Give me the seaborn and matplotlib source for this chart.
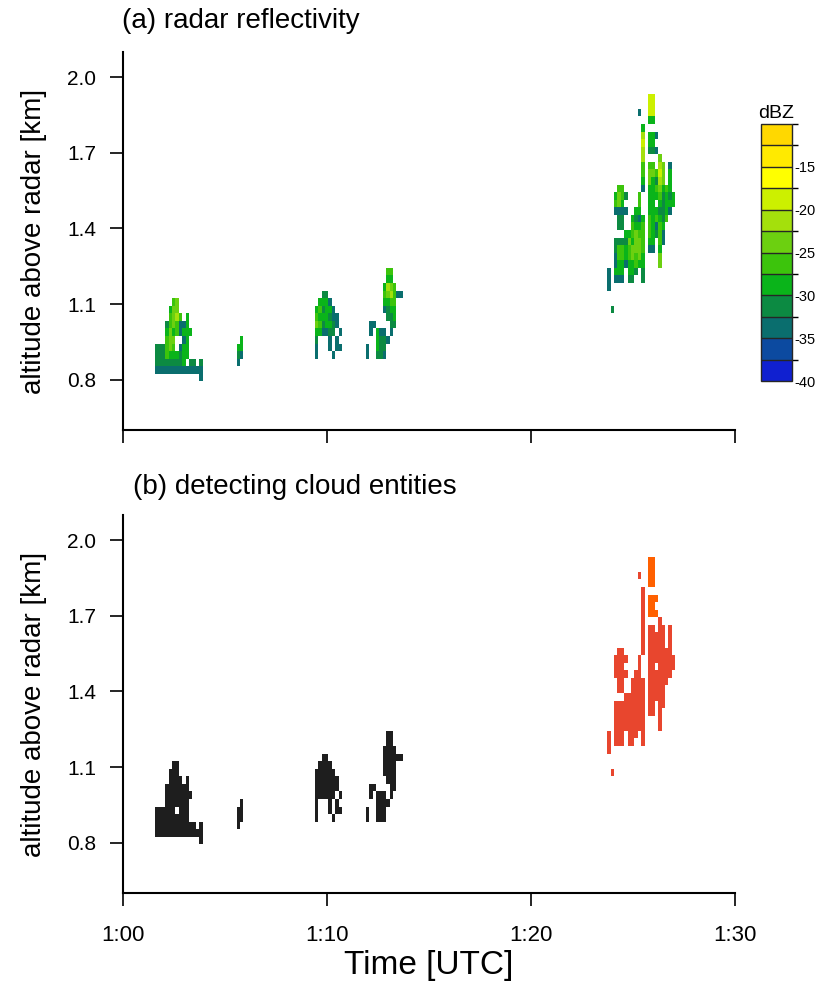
import numpy as np
import pandas as pd
import matplotlib
matplotlib.use("Agg")
import matplotlib.pyplot as plt
from matplotlib.colors import ListedColormap, BoundaryNorm
import seaborn as sns

# reflectivity classes (2.5 dB bins)
dbz_bounds = [-40, -37.5, -35, -32.5, -30, -27.5, -25, -22.5, -20, -17.5, -15, -12.5, -10]
dbz_colors = ["#1020d0", "#0c4aa0", "#0a6e6e", "#0c8a42", "#0ab41a", "#3cc40c",
              "#6cd010", "#a4e00c", "#ccf000", "#ffff00", "#ffea00", "#ffd800"]
dbz_ticks = [-40, -35, -30, -25, -20, -15]
dbz_code = {"1": -38.75, "2": -36.25, "3": -33.75, "4": -31.25, "5": -28.75, "6": -26.25,
            "7": -23.75, "8": -21.25, "9": -18.75, "a": -16.25, "b": -13.75, "c": -11.25}

# radar grid: 10 s columns, 30 m gates
col_width = 1 / 6          # minutes
col_origin = 0.4 / 6
gate = 0.03                # km
gate_origin = 0.824

# cloud 1 (rows top -> bottom)
cloud1_rows = [".....67.......",
               "....577.......",
               "....6786.5....",
               "...4676335....",
               "...57563555...",
               "...677..35....",
               "444676.355....",
               "4446555455....",
               "444444445.44.4",
               "33333333333333",
               ".............3"]
cloud2_rows = [".5",
               "55",
               "43",
               "3."]
cloud3_rows = ["..44....",
               ".5553...",
               "564553..",
               "6555433.",
               "7645543.",
               "553344.3",
               "4...3.3.",
               "3...3.33",
               "3....3.."]
cloud4_rows = ["......66...",
               "......55...",
               ".....5876..",
               ".....678633",
               ".....5566..",
               ".....3455..",
               "......445..",
               ".33....44..",
               ".3.533.3...",
               "...5443....",
               "3..544.....",
               "3..443....."]
cloud5_rows = [".........3..........",
               "....................",
               "..........5.........",
               "..........8.........",
               "..........9.........",
               "..........8.........",
               "..........8....7....",
               "..........6.66.87.3.",
               "..........6.77697.5.",
               "..........5.75487.5.",
               "...66.....3.5567565.",
               "..5764...6..55564545",
               "..675....6..55.54555",
               "..3333..55..5554453.",
               "...44..5435.656546..",
               "...44..6556.65365...",
               ".....556766.65463...",
               "..444475776.55.63...",
               "..466567776.33.5....",
               "..366567675....7....",
               "..355355655....7....",
               "3.555.554.4.........",
               "3.333.44..4.........",
               "3...................",
               "....................",
               "....................",
               ".4.................."]
cloud6_rows = ["99.",
               "99.",
               "99.",
               "55.",
               "...",
               "553",
               "55.",
               "443"]

cloud_rows = [cloud1_rows, cloud2_rows, cloud3_rows, cloud4_rows, cloud5_rows, cloud6_rows]
cloud_first_col = [9, 33, 56, 71, 142, 154]
cloud_top_gate = [9, 4, 10, 13, 34, 36]
cloud_entity = [0, 0, 0, 0, 1, 2]
entity_colors = ["#1e1e1e", "#e8462e", "#ff6000"]

# gaps closed by the entity detection (col, gate, entity)
filled_cols = [15, 15, 16, 16, 17, 18]
filled_gates = [5, 4, 5, 4, 3, 1]
filled_entity = [0, 0, 0, 0, 0, 0]

# collect cells
cells = []
for rows, c0, ktop, ent in zip(cloud_rows, cloud_first_col, cloud_top_gate, cloud_entity):
    for r, line in enumerate(rows):
        for c, ch in enumerate(line):
            if ch == ".":
                continue
            cells.append({"col": c0 + c, "gate": ktop - r, "dbz": dbz_code[ch], "entity": ent})
df = pd.DataFrame(cells)

n_col = 180
gates = np.arange(-1, 38)
dbz_grid = np.full((len(gates), n_col), np.nan)
ent_grid = np.full((len(gates), n_col), np.nan)
for _, row in df.iterrows():
    dbz_grid[int(row["gate"]) + 1, int(row["col"])] = row["dbz"]
    ent_grid[int(row["gate"]) + 1, int(row["col"])] = row["entity"]
for c, k, e in zip(filled_cols, filled_gates, filled_entity):
    ent_grid[k + 1, c] = e

x_edges = col_origin + np.arange(n_col + 1) * col_width
y_edges = gate_origin + np.append(gates, gates[-1] + 1) * gate

sns.set_theme(style="ticks")
plt.rcParams["font.family"] = ["Liberation Sans", "DejaVu Sans"]
plt.rcParams["axes.unicode_minus"] = False
for key in ("text.color", "axes.labelcolor", "xtick.color", "ytick.color"):
    plt.rcParams[key] = "black"

fig = plt.figure(figsize=(8.2, 9.82), dpi=100)
ax1 = fig.add_axes([0.15, 0.5618, 0.7463, 0.3854])
ax2 = fig.add_axes([0.15, 0.0903, 0.7463, 0.3854])

cmap = ListedColormap(dbz_colors)
norm = BoundaryNorm(dbz_bounds, cmap.N)
mesh = ax1.pcolormesh(x_edges, y_edges, np.ma.masked_invalid(dbz_grid), cmap=cmap, norm=norm)

ent_cmap = ListedColormap(entity_colors)
ent_norm = BoundaryNorm([-0.5, 0.5, 1.5, 2.5], 3)
ax2.pcolormesh(x_edges, y_edges, np.ma.masked_invalid(ent_grid), cmap=ent_cmap, norm=ent_norm)

for ax in (ax1, ax2):
    ax.set_xlim(0, 30)
    ax.set_ylim(0.6, 2.1)
    ax.set_yticks([0.8, 1.1, 1.4, 1.7, 2.0])
    ax.set_yticklabels(["0.8", "1.1", "1.4", "1.7", "2.0"])
    ax.set_xticks([0, 10, 20, 30])
    ax.set_ylabel("altitude above radar [km]", fontsize=20, labelpad=14)
    ax.tick_params(axis="both", direction="out", length=9.5, width=1.2, colors="black")
    ax.tick_params(axis="y", labelsize=15, pad=10)
    for s in ("left", "bottom"):
        ax.spines[s].set_linewidth(1.5)
        ax.spines[s].set_color("black")
    sns.despine(ax=ax)
    ax.grid(False)

ax1.set_xticklabels([])
ax2.set_xticklabels(["1:00", "1:10", "1:20", "1:30"], fontsize=16)
ax2.tick_params(axis="x", pad=13)
ax2.set_xlabel("Time [UTC]", fontsize=24, labelpad=3)

fig.text(0.149, 0.979, "(a) radar reflectivity", fontsize=20, va="center", ha="left")
fig.text(0.162, 0.504, "(b) detecting cloud entities", fontsize=20, va="center", ha="left")

# colour key
cax = fig.add_axes([0.928, 0.612, 0.0378, 0.2617])
cb = fig.colorbar(mesh, cax=cax, ticks=dbz_ticks, drawedges=True)
cb.outline.set_linewidth(1.0)
cb.dividers.set_linewidth(1.0)
cax.tick_params(length=0, labelsize=10.5, pad=2)
cax.set_title("dBZ", fontsize=14, pad=4)

fig.savefig("out.png", dpi=100)
